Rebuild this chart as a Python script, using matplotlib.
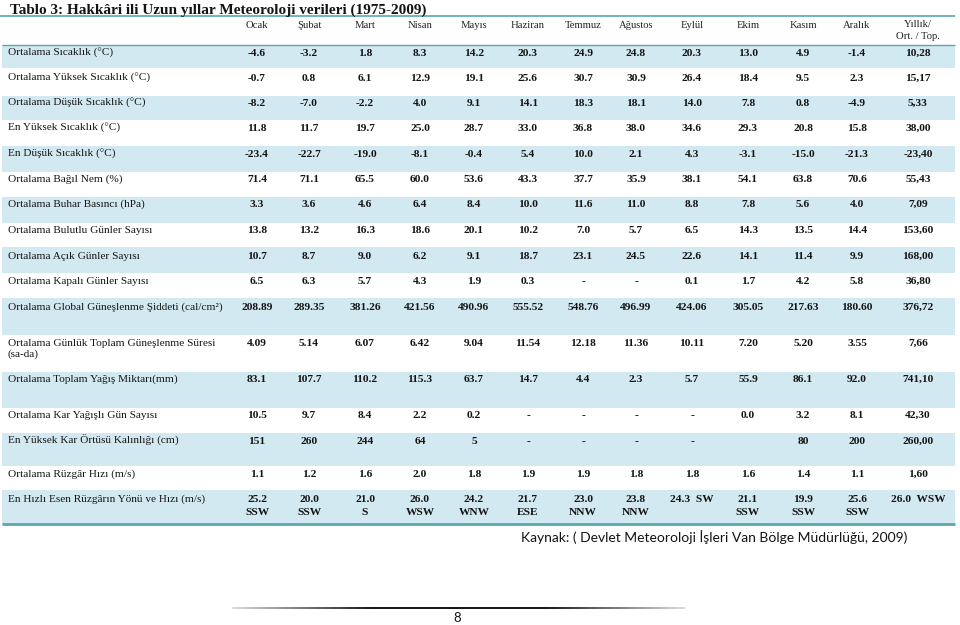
import matplotlib
matplotlib.use("Agg")
import matplotlib.pyplot as plt
import numpy as np
from matplotlib.collections import LineCollection

title = "Tablo 3: Hakkâri ili Uzun yıllar Meteoroloji verileri (1975-2009)"
months = ["Ocak", "Şubat", "Mart", "Nisan", "Mayıs", "Haziran", "Temmuz",
          "Ağustos", "Eylül", "Ekim", "Kasım", "Aralık"]
annual_header = "Yıllık/\nOrt. / Top."

row_labels = [
    "Ortalama Sıcaklık (°C)",
    "Ortalama Yüksek Sıcaklık (°C)",
    "Ortalama Düşük Sıcaklık (°C)",
    "En Yüksek Sıcaklık (°C)",
    "En Düşük Sıcaklık (°C)",
    "Ortalama Bağıl Nem (%)",
    "Ortalama Buhar Basıncı (hPa)",
    "Ortalama Bulutlu Günler Sayısı",
    "Ortalama Açık Günler Sayısı",
    "Ortalama Kapalı Günler Sayısı",
    "Ortalama Global Güneşlenme Şiddeti (cal/cm²)",
    "Ortalama Günlük Toplam Güneşlenme Süresi\n(sa-da)",
    "Ortalama Toplam Yağış Miktarı(mm)",
    "Ortalama Kar Yağışlı Gün Sayısı",
    "En Yüksek Kar Örtüsü Kalınlığı (cm)",
    "Ortalama Rüzgâr Hızı (m/s)",
    "En Hızlı Esen Rüzgârın Yönü ve Hızı (m/s)",
]

r_ort_sic = ["-4.6", "-3.2", "1.8", "8.3", "14.2", "20.3", "24.9", "24.8", "20.3", "13.0", "4.9", "-1.4", "10,28"]
r_yuk_sic = ["-0.7", "0.8", "6.1", "12.9", "19.1", "25.6", "30.7", "30.9", "26.4", "18.4", "9.5", "2.3", "15,17"]
r_dus_sic = ["-8.2", "-7.0", "-2.2", "4.0", "9.1", "14.1", "18.3", "18.1", "14.0", "7.8", "0.8", "-4.9", "5,33"]
r_en_yuk = ["11.8", "11.7", "19.7", "25.0", "28.7", "33.0", "36.8", "38.0", "34.6", "29.3", "20.8", "15.8", "38,00"]
r_en_dus = ["-23.4", "-22.7", "-19.0", "-8.1", "-0.4", "5.4", "10.0", "2.1", "4.3", "-3.1", "-15.0", "-21.3", "-23,40"]
r_nem = ["71.4", "71.1", "65.5", "60.0", "53.6", "43.3", "37.7", "35.9", "38.1", "54.1", "63.8", "70.6", "55,43"]
r_buhar = ["3.3", "3.6", "4.6", "6.4", "8.4", "10.0", "11.6", "11.0", "8.8", "7.8", "5.6", "4.0", "7,09"]
r_bulutlu = ["13.8", "13.2", "16.3", "18.6", "20.1", "10.2", "7.0", "5.7", "6.5", "14.3", "13.5", "14.4", "153,60"]
r_acik = ["10.7", "8.7", "9.0", "6.2", "9.1", "18.7", "23.1", "24.5", "22.6", "14.1", "11.4", "9.9", "168,00"]
r_kapali = ["6.5", "6.3", "5.7", "4.3", "1.9", "0.3", "-", "-", "0.1", "1.7", "4.2", "5.8", "36,80"]
r_global = ["208.89", "289.35", "381.26", "421.56", "490.96", "555.52", "548.76", "496.99", "424.06", "305.05", "217.63", "180.60", "376,72"]
r_sure = ["4.09", "5.14", "6.07", "6.42", "9.04", "11.54", "12.18", "11.36", "10.11", "7.20", "5.20", "3.55", "7,66"]
r_yagis = ["83.1", "107.7", "110.2", "115.3", "63.7", "14.7", "4.4", "2.3", "5.7", "55.9", "86.1", "92.0", "741,10"]
r_kar_gun = ["10.5", "9.7", "8.4", "2.2", "0.2", "-", "-", "-", "-", "0.0", "3.2", "8.1", "42,30"]
r_kar_ort = ["151", "260", "244", "64", "5", "-", "-", "-", "-", "", "80", "200", "260,00"]
r_ruzgar = ["1.1", "1.2", "1.6", "2.0", "1.8", "1.9", "1.9", "1.8", "1.8", "1.6", "1.4", "1.1", "1,60"]
r_en_hizli = ["25.2\nSSW", "20.0\nSSW", "21.0\nS", "26.0\nWSW", "24.2\nWNW", "21.7\nESE", "23.0\nNNW",
              "23.8\nNNW", "24.3  SW", "21.1\nSSW", "19.9\nSSW", "25.6\nSSW", "26.0  WSW"]

rows = [r_ort_sic, r_yuk_sic, r_dus_sic, r_en_yuk, r_en_dus, r_nem, r_buhar, r_bulutlu,
        r_acik, r_kapali, r_global, r_sure, r_yagis, r_kar_gun, r_kar_ort, r_ruzgar, r_en_hizli]

source = "Kaynak: ( Devlet Meteoroloji İşleri Van Bölge Müdürlüğü, 2009)"
page_no = "8"

# ---------------- layout ----------------
W, H = 960, 625
col_x = [257, 309, 365, 420, 474, 528, 583, 636, 692, 748, 803, 857, 918]
row_y = [52, 77, 102, 127, 153, 178, 203, 229, 255, 280, 306, 342, 378, 414, 440, 473, 498]
band_top = [45, 96, 146, 197, 247, 298, 372, 433, 490]
band_bot = [68, 120, 172, 223, 273, 335, 408, 466, 524]

band_col = "#d3e9f1"
teal = "#5aa7b0"
txt_col = "#141414"
serif = ["Liberation Serif", "DejaVu Serif"]
fs_lab = 8.1
fs_val = 8.2
fs_head = 7.7
base_dy = 3.6

fig = plt.figure(figsize=(W / 100, H / 100), dpi=100)
ax = fig.add_axes([0, 0, 1, 1])
ax.set_xlim(0, W)
ax.set_ylim(H, 0)
ax.axis("off")


def lines(x, y, s, step, **kw):
    for i, part in enumerate(s.split("\n")):
        ax.text(x, y + base_dy + i * step, part, va="baseline", **kw)


for t, b in zip(band_top, band_bot):
    ax.fill_between([2, 955], t, b, color=band_col, lw=0)

ax.plot([0, 955], [16, 16], color=teal, lw=1.2, solid_capstyle="butt")
ax.plot([2, 955], [44.5, 44.5], color=teal, lw=1.0, solid_capstyle="butt")
ax.plot([2, 955], [524, 524], color=teal, lw=2.0, solid_capstyle="butt")

ax.text(10, 10, title, family=serif, weight="bold", fontsize=11.0,
        color=txt_col, ha="left", va="center")

for x, m in zip(col_x, months):
    lines(x, 24, m, 12, family=serif, fontsize=fs_head, color="#222222", ha="center")
lines(col_x[-1], 23, annual_header, 12, family=serif, fontsize=fs_head,
      color="#222222", ha="center")

for y, lab, vals in zip(row_y, row_labels, rows):
    lines(8, y, lab, 11, family=serif, fontsize=fs_lab, color=txt_col, ha="left")
    for x, v in zip(col_x, vals):
        if v:
            lines(x, y, v, 13, family=serif, weight="bold", fontsize=fs_val,
                  color=txt_col, ha="center")

ax.text(714, 537, source, family=["Lato", "DejaVu Sans"], fontsize=10.0,
        color=txt_col, ha="center", va="center")

# footer gradient line
xs = np.linspace(232, 685, 200)
pts = np.array([xs, np.full_like(xs, 608)]).T.reshape(-1, 1, 2)
segs = np.concatenate([pts[:-1], pts[1:]], axis=1)
mid = (xs[:-1] + xs[1:]) / 2
d = np.clip(np.minimum((mid - 232) / 140, (685 - mid) / 140), 0, 1)
cols = [(0.85 - 0.85 * v, 0.85 - 0.85 * v, 0.85 - 0.85 * v) for v in d]
ax.add_collection(LineCollection(segs, colors=cols, linewidths=1.3))

ax.text(457, 618, page_no, family=["Lato", "DejaVu Sans"], fontsize=9.5,
        color=txt_col, ha="center", va="center")

fig.savefig("out.png", dpi=100)
